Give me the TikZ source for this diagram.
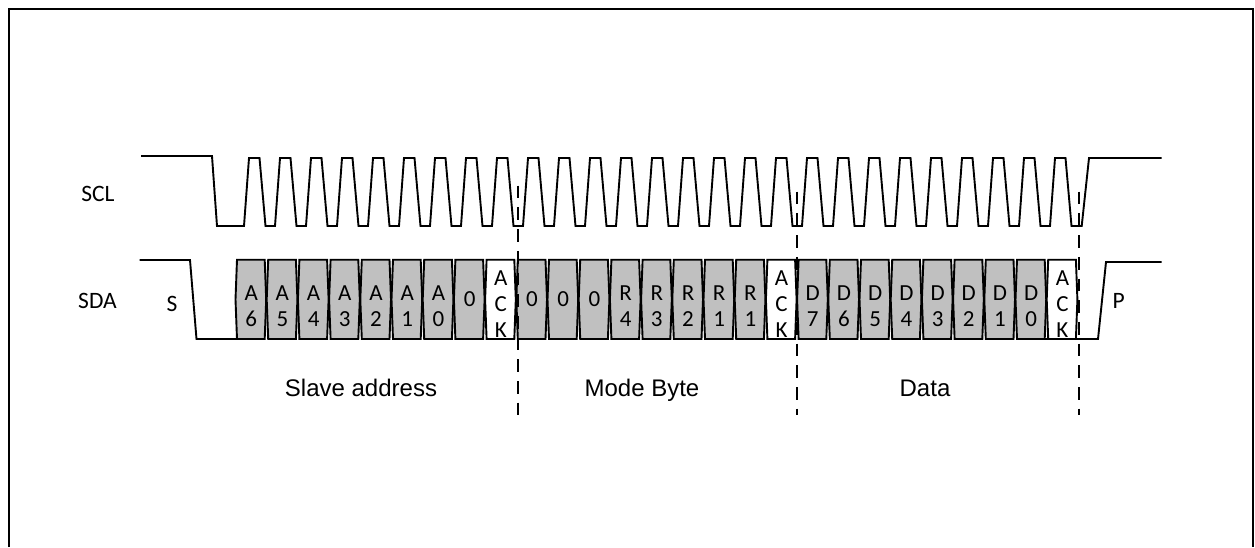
\documentclass[tikz,border=0pt]{standalone}
\usepackage{fontspec}
\setmainfont{Carlito}
\newfontfamily\arialf{Liberation Sans}
\newcommand{\tl}[1]{\rule[-1pt]{0pt}{16pt}#1}
\begin{document}
\begin{tikzpicture}[x=1pt,y=-1pt,
  wave/.style={line width=1.9pt,line join=miter,black},
  frameline/.style={line width=2pt,black},
  databox/.style={line width=1.9pt,draw=black,fill=boxgray,line join=miter},
  ackbox/.style={line width=1.9pt,draw=black,fill=white,line join=miter},
  boxtext/.style={inner sep=0pt,align=center,font=\fontsize{23}{26}\selectfont},
  siglabel/.style={inner sep=0pt,font=\fontsize{23.5}{27}\selectfont},
  seclabel/.style={inner sep=0pt,anchor=base,font=\arialf\fontsize{24}{28}\selectfont},
  divider/.style={line width=2pt,black,dash pattern=on 12.7pt off 9pt}]
\definecolor{boxgray}{HTML}{C0C0C0}
\useasboundingbox (0,0) rectangle (1255,547);
\draw[frameline] (9,547) -- (9,9) -- (1253,9) -- (1253,547);
% SCL
\draw[wave] (141,156) -- (212,156) -- (217,226) -- (244,226)
  \foreach \k in {0,...,26}{ -- ({249+31*\k},158) -- ({259.5+31*\k},158) -- ({265.5+31*\k},226) -- ({275+31*\k},226) }
  -- (1081.7,226) -- (1089,158) -- (1161.7,158);
% SDA
\draw[wave] (139.5,260) -- (190,260) -- (196.5,339) -- (258,339);
\draw[wave] (1030,339) -- (1098,339) -- (1106,262) -- (1161.7,262);
% Boxes
\foreach \i/\txt/\sty/\ty in {
 0/{\tl{A}\\\tl{6}}/databox/306,1/{\tl{A}\\\tl{5}}/databox/306,2/{\tl{A}\\\tl{4}}/databox/306,3/{\tl{A}\\\tl{3}}/databox/306,4/{\tl{A}\\\tl{2}}/databox/306,5/{\tl{A}\\\tl{1}}/databox/306,6/{\tl{A}\\\tl{0}}/databox/306,7/{\tl{0}}/databox/299.5,8/{\tl{A}\\\tl{C}\\\tl{K}}/ackbox/304.5,
 9/{\tl{0}}/databox/299.5,10/{\tl{0}}/databox/299.5,11/{\tl{0}}/databox/299.5,12/{\tl{R}\\\tl{4}}/databox/306,13/{\tl{R}\\\tl{3}}/databox/306,14/{\tl{R}\\\tl{2}}/databox/306,15/{\tl{R}\\\tl{1}}/databox/306,16/{\tl{R}\\\tl{1}}/databox/306,17/{\tl{A}\\\tl{C}\\\tl{K}}/ackbox/304.5,
 18/{\tl{D}\\\tl{7}}/databox/306,19/{\tl{D}\\\tl{6}}/databox/306,20/{\tl{D}\\\tl{5}}/databox/306,21/{\tl{D}\\\tl{4}}/databox/306,22/{\tl{D}\\\tl{3}}/databox/306,23/{\tl{D}\\\tl{2}}/databox/306,24/{\tl{D}\\\tl{1}}/databox/306,25/{\tl{D}\\\tl{0}}/databox/306,26/{\tl{A}\\\tl{C}\\\tl{K}}/ackbox/304.5}{
  \pgfmathsetmacro{\xl}{237+31.2*\i}
  \pgfmathsetmacro{\xr}{\xl+27.7}
  \pgfmathsetmacro{\xm}{\xl+14.2}
  \draw[\sty] (\xl,259.7) -- (\xr,259.7) -- (\xr+1.5,299.5) -- (\xr,339) -- (\xl,339) -- (\xl-1.5,299.5) -- cycle;
  \node[boxtext] (b\i) at (\xm,\ty) {\txt};
}
% Dividers
\coordinate (d1t) at (517.7,185.7); \coordinate (d1b) at (517.7,415);
\coordinate (d2t) at (796.7,191.7); \coordinate (d2b) at (796.7,415);
\coordinate (d3t) at (1079.3,191.7); \coordinate (d3b) at (1079.3,415);
\draw[divider] (d1t) -- (d1b);
\draw[divider] (d2t) -- (d2b);
\draw[divider] (d3t) -- (d3b);
% Labels
\node[siglabel] (scl) at (98,193.5) {SCL};
\node[siglabel] (sda) at (97.5,301) {SDA};
\node[siglabel] (s) at (172,304) {S};
\node[siglabel] (p) at (1118.7,300.5) {P};
\node[seclabel] (l1) at (361,396) {Slave address};
\node[seclabel] (l2) at (642,396) {Mode Byte};
\node[seclabel] (l3) at (925,396) {Data};
\end{tikzpicture}
\end{document}
